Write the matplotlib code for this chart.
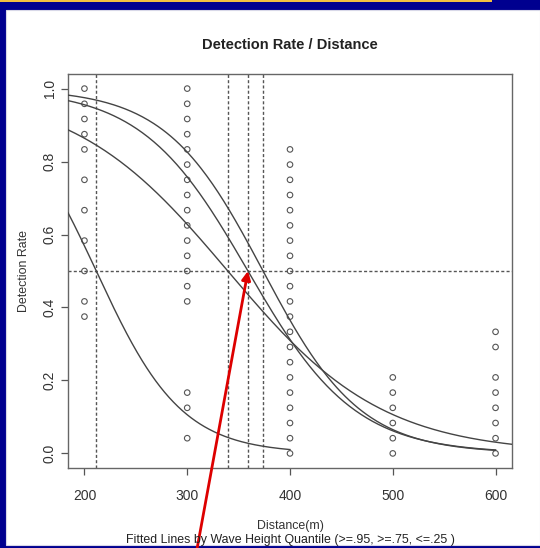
import numpy as np
import matplotlib
matplotlib.use("Agg")
import matplotlib.pyplot as plt
from matplotlib.patches import Rectangle

# --- Datos ---
n_trials = 24
distances = [200, 300, 400, 500, 600]
hits_200 = [24, 23, 22, 21, 20, 18, 16, 14, 12, 10, 9]
hits_300 = [24, 23, 22, 21, 20, 19, 18, 17, 16, 15, 14, 13, 12, 11, 10, 4, 3, 1]
hits_400 = list(range(0, 21))
hits_500 = [0, 1, 2, 3, 4, 5]
hits_600 = [0, 1, 2, 3, 4, 5, 7, 8]

# curvas logisticas ajustadas: (punto 50%, pendiente, x inicio, x fin)
fit_midpoints = [211.5, 339.5, 359.1, 373.8]
fit_slopes = [-0.0241, -0.01325, -0.0193, -0.0211]
fit_x_start = [184, 184, 184, 184]
fit_x_end = [400, 616, 600, 600]

title = "Detection Rate / Distance"
x_label = "Distance(m)"
y_label = "Detection Rate"
subtitle = "Fitted Lines by Wave Height Quantile (>=.95, >=.75, <=.25 )"

# --- Figura ---
plt.rcParams['font.family'] = ['Liberation Sans', 'DejaVu Sans']
fig = plt.figure(figsize=(5.40, 5.48), dpi=100, facecolor='#00008f')
W, H = 540, 548
fig.patches.append(Rectangle((6 / W, 3 / H), 1 - 6 / W, (548 - 13) / H,
                             transform=fig.transFigure, facecolor='white',
                             edgecolor='#d8d8e8', lw=0.8, zorder=-10))
fig.patches.append(Rectangle((0, (H - 2) / H), 492 / W, 2 / H,
                             transform=fig.transFigure, facecolor='#f2c040',
                             edgecolor='none', zorder=-10))

ax = fig.add_axes([68 / W, (H - 468) / H, (512 - 68) / W, (468 - 74) / H])
ax.set_facecolor('white')

pt_color = '#555555'
line_color = '#444444'
all_hits = [hits_200, hits_300, hits_400, hits_500, hits_600]
for d, hits in zip(distances, all_hits):
    rates = np.array(hits) / n_trials
    ax.scatter(np.full(len(rates), d), rates, s=16, facecolors='none',
               edgecolors=pt_color, linewidths=0.8, zorder=3)

for mid, slope, x0, x1 in zip(fit_midpoints, fit_slopes, fit_x_start, fit_x_end):
    xs = np.linspace(x0, x1, 300)
    ys = 1 / (1 + np.exp(-slope * (xs - mid)))
    ax.plot(xs, ys, color=line_color, lw=1.0, zorder=4)

dash = (0, (2.2, 1.6))
ax.axhline(0.5, color='#555555', lw=1.0, linestyle=dash, zorder=2)
for mid in fit_midpoints:
    ax.axvline(mid, color='#555555', lw=1.0, linestyle=dash, zorder=2)

ax.set_xlim(184, 616)
ax.set_ylim(-0.04, 1.04)
ax.set_xticks(distances)
ax.set_yticks([0.0, 0.2, 0.4, 0.6, 0.8, 1.0])
ax.set_yticklabels(['0.0', '0.2', '0.4', '0.6', '0.8', '1.0'], rotation=90, va='center')
ax.tick_params(direction='out', length=5, width=0.9, color='#555555',
               labelcolor='#333333', labelsize=10)
ax.tick_params(axis='x', pad=10)
ax.tick_params(axis='y', pad=3)
for sp in ax.spines.values():
    sp.set_color('#666666')
    sp.set_linewidth(1.0)

ax.set_title(title, fontsize=10.5, fontweight='bold', color='#222222', pad=18)
ax.set_xlabel(x_label, fontsize=8.9, color='#333333', labelpad=12)
ax.set_ylabel(y_label, fontsize=8.9, color='#333333', labelpad=9)
fig.text((68 + 512) / 2 / W, (H - 540) / H, subtitle, ha='center', va='center',
         fontsize=8.9, color='#222222')

# flecha roja hacia el cruce central
ax.annotate('', xy=(fit_midpoints[2], 0.5), xytext=(197, -1), textcoords='figure pixels',
            arrowprops=dict(arrowstyle='-|>', color='#dd0000', lw=2, mutation_scale=13,
                            shrinkA=0, shrinkB=0),
            annotation_clip=False, zorder=10)

fig.savefig('out.png', dpi=100, facecolor=fig.get_facecolor())
